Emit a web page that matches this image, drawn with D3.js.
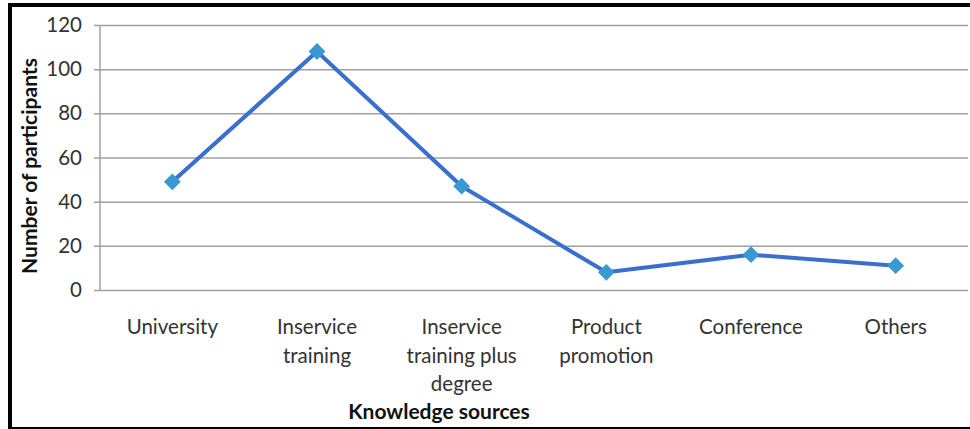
<!DOCTYPE html>
<html>
<head>
<meta charset="utf-8">
<script src="https://cdn.jsdelivr.net/npm/d3@7"></script>
<style>
  html, body { margin: 0; padding: 0; background: #fff; }
  svg { display: block; }
  text { font-family: Lato, "Open Sans", sans-serif; }
</style>
</head>
<body>
<svg id="chart" width="970" height="429"></svg>
<script>
// Knowledge sources reported by participants
const categories = [
  ["University"],
  ["Inservice", "training"],
  ["Inservice", "training plus", "degree"],
  ["Product", "promotion"],
  ["Conference"],
  ["Others"]
];
const participants = [49, 108, 47, 8, 16, 11];
const yTicks = [0, 20, 40, 60, 80, 100, 120];

const svg = d3.select("#chart");
const W = 970, H = 429;
const plot = { left: 100, right: 968, top: 25, bottom: 290 };
const labelSize = 20.5;

// Frame around the figure
svg.append("rect").attr("x", 8).attr("y", 3).attr("width", W - 8).attr("height", 4).attr("fill", "#000");
svg.append("rect").attr("x", 8).attr("y", 3).attr("width", 4).attr("height", H - 3).attr("fill", "#000");
svg.append("rect").attr("x", 8).attr("y", 427).attr("width", W - 8).attr("height", 2).attr("fill", "#000");

const x = d3.scaleBand()
  .domain(d3.range(categories.length))
  .range([plot.left, plot.right]);
const y = d3.scaleLinear().domain([0, 120]).range([plot.bottom, plot.top]);

// Horizontal gridlines with y tick labels
const yAxis = d3.axisLeft(y)
  .tickValues(yTicks)
  .tickSize(-(plot.right - plot.left))
  .tickPadding(18)
  .tickFormat(d3.format("d"));
const gy = svg.append("g")
  .attr("transform", `translate(${plot.left},0)`)
  .call(yAxis);
gy.select(".domain").remove();
gy.selectAll(".tick line")
  .attr("x1", -6)
  .attr("stroke", "#a0a0a0")
  .attr("stroke-width", 1.5);
gy.selectAll(".tick text")
  .attr("fill", "#333")
  .attr("font-size", labelSize);

// Vertical axis line
svg.append("line")
  .attr("x1", plot.left).attr("x2", plot.left)
  .attr("y1", plot.top).attr("y2", plot.bottom)
  .attr("stroke", "#a0a0a0").attr("stroke-width", 1.5);

// Category labels (multi-line)
const xl = svg.append("g");
categories.forEach((lines, i) => {
  const t = xl.append("text")
    .attr("x", x(i) + x.bandwidth() / 2)
    .attr("y", 334)
    .attr("text-anchor", "middle")
    .attr("fill", "#333")
    .attr("font-size", labelSize);
  lines.forEach((ln, j) => {
    t.append("tspan")
      .attr("x", x(i) + x.bandwidth() / 2)
      .attr("y", 334 + j * 28.5)
      .text(ln);
  });
});

// Series line
const cx = i => x(i) + x.bandwidth() / 2;
const line = d3.line().x((d, i) => cx(i)).y(d => y(d));
svg.append("path")
  .datum(participants)
  .attr("d", line)
  .attr("fill", "none")
  .attr("stroke", "#3a6fce")
  .attr("stroke-width", 4)
  .attr("stroke-linejoin", "round");

// Diamond markers
svg.append("g").selectAll("path")
  .data(participants)
  .join("path")
  .attr("d", d3.symbol().type(d3.symbolDiamond2).size(180))
  .attr("transform", (d, i) => `translate(${cx(i)},${y(d)})`)
  .attr("fill", "#3999d0");

// Axis titles
svg.append("text")
  .attr("x", 439).attr("y", 419)
  .attr("text-anchor", "middle")
  .attr("font-weight", "bold")
  .attr("font-size", 21)
  .attr("fill", "#111")
  .text("Knowledge sources");

svg.append("text")
  .attr("transform", "translate(37,166) rotate(-90)")
  .attr("text-anchor", "middle")
  .attr("font-weight", "bold")
  .attr("font-size", 21)
  .attr("fill", "#111")
  .text("Number of participants");
</script>
</body>
</html>
